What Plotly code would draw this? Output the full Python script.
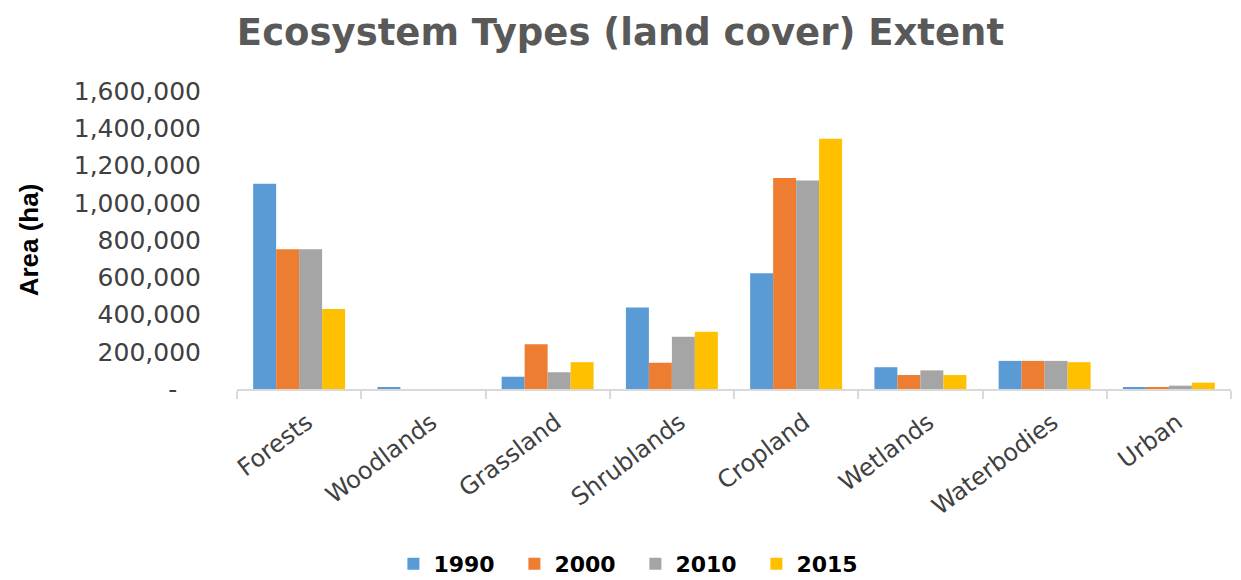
import plotly.graph_objects as go

# Land cover classes and yearly extent (hectares)
categories = ["Forests", "Woodlands", "Grassland", "Shrublands",
              "Cropland", "Wetlands", "Waterbodies", "Urban"]
years = ["1990", "2000", "2010", "2015"]
area_1990 = [1102000, 8000, 66000, 437000, 622000, 117000, 151000, 9000]
area_2000 = [751000, 0, 240000, 141000, 1133000, 75000, 151000, 9000]
area_2010 = [751000, 0, 90000, 281000, 1119000, 100000, 151000, 18000]
area_2015 = [429000, 0, 144000, 307000, 1343000, 75000, 144000, 34000]
series = [area_1990, area_2000, area_2010, area_2015]
colors = ["#5B9BD5", "#ED7D31", "#A5A5A5", "#FFC000"]

y_ticks = [0, 200000, 400000, 600000, 800000, 1000000, 1200000, 1400000, 1600000]
y_ticktext = ["-\u00a0\u00a0\u00a0", "200,000", "400,000", "600,000", "800,000",
              "1,000,000", "1,200,000", "1,400,000", "1,600,000"]

fig = go.Figure()
for year, values, color in zip(years, series, colors):
    fig.add_trace(go.Bar(
        name=year, x=categories, y=values,
        marker=dict(color=color, line=dict(width=0)),
    ))

fig.update_layout(
    width=1241, height=580,
    margin=dict(l=237, r=10, t=91, b=191),
    paper_bgcolor="white", plot_bgcolor="white",
    barmode="group", bargap=0.26, bargroupgap=0,
    title=dict(
        text="<b>Ecosystem Types (land cover) Extent</b>",
        x=0.5, xanchor="center", y=1 - 32 / 580, yanchor="middle",
        font=dict(family="DejaVu Sans", size=37, color="#595959"),
    ),
    xaxis=dict(
        showline=True, linecolor="#D9D9D9", linewidth=2,
        ticks="outside", tickson="boundaries", ticklen=8,
        tickcolor="#D9D9D9", tickwidth=2,
        tickangle=-37, ticklabelstandoff=8, ticklabelshift=8,
        tickfont=dict(family="DejaVu Sans", size=24, color="#404040"),
        showgrid=False,
    ),
    yaxis=dict(
        range=[0, 1600000],
        tickvals=y_ticks, ticktext=y_ticktext,
        tickfont=dict(family="DejaVu Sans", size=25, color="#404040"),
        ticks="outside", ticklen=30, tickcolor="rgba(0,0,0,0)",
        showgrid=False, showline=False, zeroline=False,
        title=dict(
            text="<b>Area (ha)</b>", standoff=27,
            font=dict(family="Liberation Sans Narrow, Liberation Sans", size=26, color="#000000"),
        ),
    ),
    legend=dict(
        orientation="h",
        xref="container", x=0.512, xanchor="center",
        yref="container", y=1 - 564 / 580, yanchor="middle",
        font=dict(family="DejaVu Sans", size=22, color="#000000", weight="bold"),
        itemwidth=30, entrywidth=76, entrywidthmode="pixels",
    ),
)

fig.write_html("out.html")
